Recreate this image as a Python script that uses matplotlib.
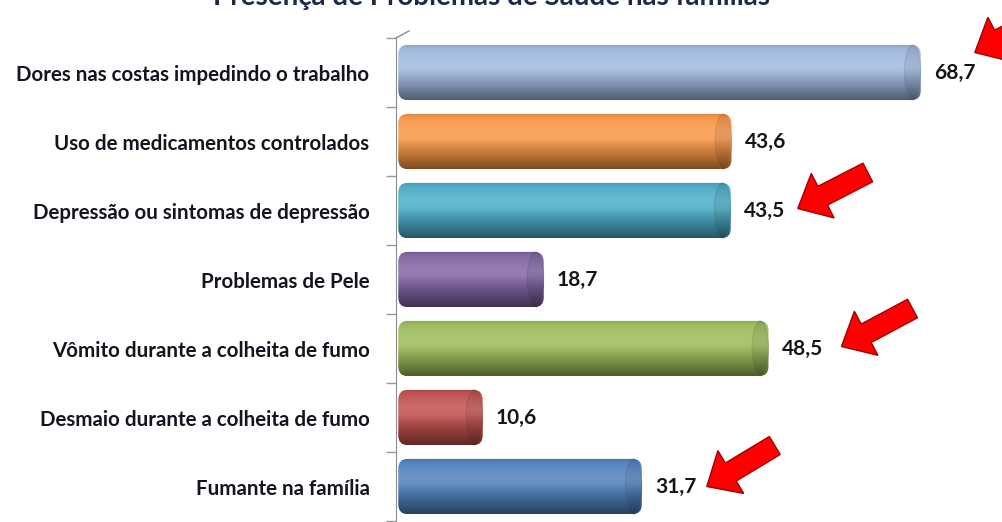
import numpy as np
import matplotlib
matplotlib.use('Agg')
from matplotlib import pyplot as plt
from matplotlib.patches import FancyBboxPatch, Ellipse, FancyArrow
from matplotlib.transforms import IdentityTransform
from matplotlib.colors import to_rgb

# data
categories = ['Dores nas costas impedindo o trabalho',
              'Uso de medicamentos controlados',
              'Depressão ou sintomas de depressão',
              'Problemas de Pele',
              'Vômito durante a colheita de fumo',
              'Desmaio durante a colheita de fumo',
              'Fumante na família']
values = [68.7, 43.6, 43.5, 18.7, 48.5, 10.6, 31.7]
value_labels = ['68,7', '43,6', '43,5', '18,7', '48,5', '10,6', '31,7']
colors = ['#9FB8DE', '#F79646', '#4BACC6', '#8064A2', '#9BBB59', '#C0504D', '#4F81BD']
highlighted = [0, 2, 4, 6]
title = 'Presença de Problemas de Saúde nas famílias'

W, H = 1003, 522
fig = plt.figure(figsize=(W / 100, H / 100), dpi=100)
fig.patch.set_facecolor('white')
ax = fig.add_axes([396 / W, 1 / H, 1 - 396 / W, (521 - 38) / H])
ax.set_xlim(-0.9, 79.6)
ax.set_ylim(6.5, -0.5)

bar_h = 0.8
x_start = -0.6
cap_w = 2.2
t = np.linspace(0, 1, 80)


def shade(c, scale=1.0):
    c = np.array(to_rgb(c)) * scale
    light = 0.16 * np.exp(-((t - 0.35) / 0.22) ** 2)
    dark = 0.5 * np.clip((t - 0.45) / 0.55, 0, 1) ** 1.2 + 0.10 * np.exp(-(t / 0.06) ** 2)
    col = c[None, :] * (1 - dark[:, None]) + (1 - c[None, :]) * light[:, None]
    return np.clip(col, 0, 1)[:, None, :]


for i, (v, c) in enumerate(zip(values, colors)):
    y0 = i - bar_h / 2
    body = FancyBboxPatch((x_start, y0), v - x_start, bar_h,
                          boxstyle='round,pad=0,rounding_size=1.2',
                          mutation_aspect=0.12, fc='none', ec='none')
    ax.add_patch(body)
    im = ax.imshow(shade(c), extent=[x_start, v, i + bar_h / 2, y0],
                   aspect='auto', interpolation='bilinear', zorder=2)
    im.set_clip_path(body)
    cap = Ellipse((v - cap_w / 2, i), cap_w, bar_h, fc='none',
                  ec=np.array(to_rgb(c)) * 0.7, lw=0.6, zorder=3, alpha=0.35)
    ax.add_patch(cap)
    im2 = ax.imshow(shade(c, 0.9), extent=[v - cap_w, v, i + bar_h / 2, y0],
                    aspect='auto', interpolation='bilinear', zorder=2.5)
    im2.set_clip_path(cap)
    ax.annotate(value_labels[i], (v, i), xytext=(13, 0), textcoords='offset pixels',
                ha='left', va='center', fontsize=15, fontweight='bold',
                family='Lato', color='#151515')

ax.set_yticks(range(len(categories)))
ax.set_yticklabels(categories, fontsize=14.8, fontweight='bold', family='Lato', color='#14141e')
ax.set_yticks(np.arange(-0.5, len(categories), 1), minor=True)
ax.tick_params(axis='y', which='major', length=0, pad=19)
ax.tick_params(axis='y', which='minor', length=7, width=1, color='#9a9a9a', direction='out')
ax.set_xticks([])
for s in ['top', 'right', 'bottom']:
    ax.spines[s].set_visible(False)
ax.spines['left'].set_color('#8c8c8c')
ax.plot([0, 13 / 607], [1, 1 + 7 / 483], transform=ax.transAxes, color='#8c8c8c',
        lw=1, clip_on=False)

# title is cut off at the top edge in the original picture
fig.text(0.49, 1 - 5 / H, title, ha='center', va='baseline', fontsize=20,
         fontweight='bold', family='Lato', color='#1c2a48')

# red arrows pointing at highlighted values
arrow_offsets = {0: (54, 20, 124, 57), 2: (67, 2, 137, 38),
                 4: (73, 2, 144, 40), 6: (65, 0, 133, 41)}
for i in highlighted:
    ex, ey = ax.transData.transform((values[i], i))
    tdx, tdy, sdx, sdy = arrow_offsets[i]
    tip = np.array([ex + tdx, ey + tdy])
    tail = np.array([ex + sdx, ey + sdy])
    d = tip - tail
    arr = FancyArrow(tail[0], tail[1], d[0], d[1], width=21, head_width=50,
                     head_length=28, length_includes_head=True,
                     transform=IdentityTransform(), fc='#FF0000', ec='#A00000', lw=1)
    fig.add_artist(arr)

fig.savefig('out.png', dpi=100)
